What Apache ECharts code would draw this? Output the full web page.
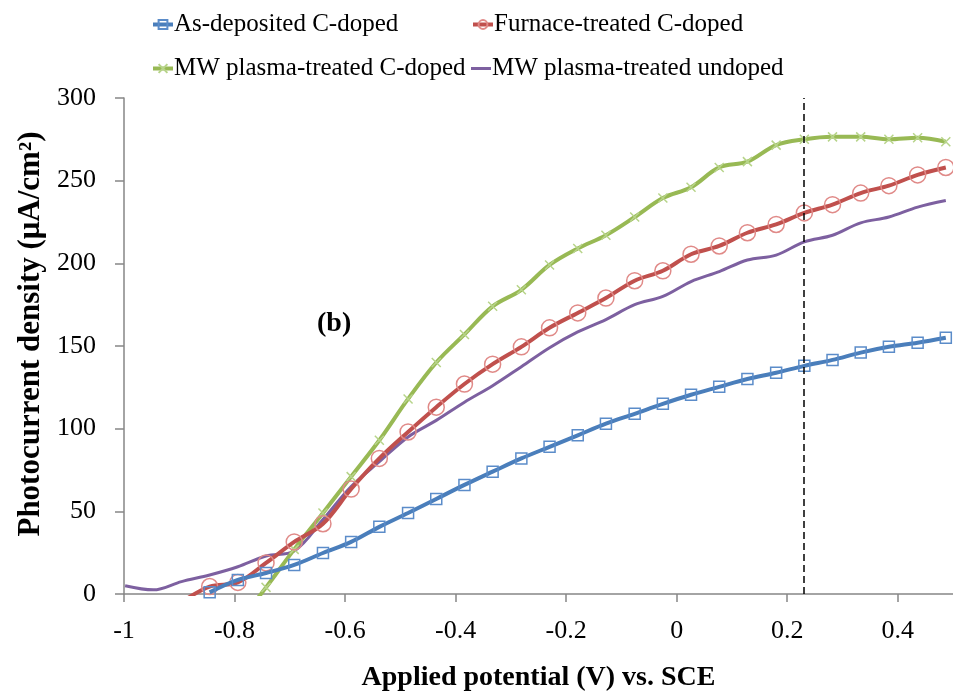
<!DOCTYPE html>
<html>
<head>
<meta charset="utf-8">
<script src="https://cdn.jsdelivr.net/npm/echarts@6/dist/echarts.min.js"></script>
<style>
html,body{margin:0;padding:0;background:#fff;}
#chart{width:953px;height:698px;}
</style>
</head>
<body>
<div id="chart"></div>
<script>
// Applied potential (V vs. SCE) at each measured point
const potential = [-0.998,-0.947,-0.896,-0.845,-0.794,-0.743,-0.692,-0.640,-0.589,-0.538,-0.486,-0.435,-0.384,-0.333,-0.281,-0.230,-0.179,-0.128,-0.076,-0.025,0.026,0.077,0.128,0.180,0.231,0.282,0.333,0.384,0.436,0.487];

const seriesNames = ['As-deposited C-doped','Furnace-treated C-doped','MW plasma-treated C-doped','MW plasma-treated undoped'];

// As-deposited C-doped: starts at -0.845
const asDeposited = [1,8.5,12.7,17.6,24.8,31.5,40.6,49,57.5,66,74,82,89,96,103,109,115,120.5,125.3,130,133.8,138,141.6,146,149.5,152,155];
// Furnace-treated C-doped: starts at -0.896
const furnace = [-5,4.5,7,18.8,31.5,42.5,63.5,82,98,113,127,139,149.5,161,170,179,189.5,195.5,205.5,210.5,218.5,223.5,230.5,235.5,242.5,247,253.5,258];
// MW plasma-treated C-doped: starts at -0.794
const mwDoped = [-18,4,27,49,71,93,118,140,157,174,184,199,209,217,228,239.5,246,258,261.5,271.5,275,276.5,276.5,275,276,273.5];
// MW plasma-treated undoped: starts at -0.998
const mwUndoped = [5,2.5,7.5,11.5,16.5,23,26,45,65,80,95,105,116,126,137.5,149,158.5,166,175,180,189,195,202,205,213,217,224.5,228,234,238];

const xTicks = [-1,-0.8,-0.6,-0.4,-0.2,0,0.2,0.4];
const markerPotential = 0.23;
const panelLabel = '(b)';

function pair(values){
  const offset = potential.length - values.length;
  return values.map((v,i)=>[potential[offset+i], v]);
}

const serif = '"Liberation Serif","DejaVu Serif",serif';
const colors = ['#4a7ebb','#c0504d','#98b954','#7d60a0'];
const crossPath = 'path://M0,0L10,10M10,0L0,10';

const chart = echarts.init(document.getElementById('chart'), null, {renderer:'canvas'});

function legend(name, left, top, plain){
  const item = plain ? {name:name, icon:'rect', itemStyle:{color:colors[3]}} : {name:name};
  return {
    data:[item], left:left, top:top, orient:'horizontal',
    itemWidth:20, itemHeight: plain ? 3 : 11, itemGap:4,
    lineStyle:{width:4},
    textStyle:{fontFamily:serif, fontSize:25, color:'#000', padding:[0,0,0,-4]},
    selectedMode:false
  };
}

const option = {
  animation:false,
  backgroundColor:'#fff',
  color:colors,
  legend:[
    legend(seriesNames[0],146,7,false),
    legend(seriesNames[1],466,7,false),
    legend(seriesNames[2],146,51,false),
    legend(seriesNames[3],466,51,true)
  ],
  grid:{left:124, right:-3, top:98, bottom:104, containLabel:false},
  graphic:[{
    type:'text', left:317, top:310,
    style:{text:panelLabel, font:'bold 28px "Liberation Serif", serif', fill:'#000'}
  }],
  xAxis:{
    type:'value', min:-1, max:0.5, interval:0.2,
    name:'Applied potential (V) vs. SCE', nameLocation:'middle', nameGap:70,
    nameTextStyle:{fontFamily:serif, fontSize:28, fontWeight:'bold', color:'#000'},
    axisLine:{show:true, onZero:false, lineStyle:{color:'#868686', width:1.5}},
    axisTick:{show:true, length:8, lineStyle:{color:'#868686', width:1.5}},
    axisLabel:{fontFamily:serif, fontSize:26, color:'#000', margin:24, showMaxLabel:false,
      formatter:function(v){ return xTicks.indexOf(Math.round(v*10)/10) >= 0 ? String(Math.round(v*10)/10) : ''; }},
    splitLine:{show:false}
  },
  yAxis:{
    type:'value', min:0, max:300, interval:50,
    name:'Photocurrent density (μA/cm²)', nameLocation:'middle', nameGap:74,
    nameTextStyle:{fontFamily:serif, fontSize:31, fontWeight:'bold', color:'#000', padding:[0,0,0,24]},
    axisLine:{show:true, onZero:false, lineStyle:{color:'#868686', width:1.5}},
    axisTick:{show:true, length:9, lineStyle:{color:'#868686', width:1.5}},
    axisLabel:{fontFamily:serif, fontSize:26, color:'#000', margin:28},
    splitLine:{show:false}
  },
  series:[
    {
      name:seriesNames[0], type:'line', data:pair(asDeposited), smooth:0.35, clip:true,
      symbol:'rect', symbolSize:11, showSymbol:true,
      lineStyle:{color:colors[0], width:4},
      itemStyle:{color:'rgba(255,255,255,0)', borderColor:'#5b8cc9', borderWidth:1.5},
      z:4
    },
    {
      name:seriesNames[1], type:'line', data:pair(furnace), smooth:0.35, clip:true,
      symbol:'circle', symbolSize:16, showSymbol:true,
      lineStyle:{color:colors[1], width:4},
      itemStyle:{color:'rgba(255,255,255,0)', borderColor:'#e08a88', borderWidth:1.5},
      z:3,
      markLine:{
        silent:true, symbol:['none','none'], label:{show:false},
        lineStyle:{color:'#000', type:[7,4], width:1.5},
        data:[{xAxis:markerPotential}]
      }
    },
    {
      name:seriesNames[2], type:'line', data:pair(mwDoped), smooth:0.35, clip:true,
      symbol:crossPath, symbolSize:9, showSymbol:true,
      lineStyle:{color:colors[2], width:4},
      itemStyle:{color:'rgba(255,255,255,0)', borderColor:'#b7d48a', borderWidth:1.5},
      z:2
    },
    {
      name:seriesNames[3], type:'line', data:pair(mwUndoped), smooth:0.35, clip:true,
      symbol:'none', showSymbol:false,
      lineStyle:{color:colors[3], width:3},
      itemStyle:{color:colors[3]},
      z:1
    }
  ]
};
chart.setOption(option);
</script>
</body>
</html>
